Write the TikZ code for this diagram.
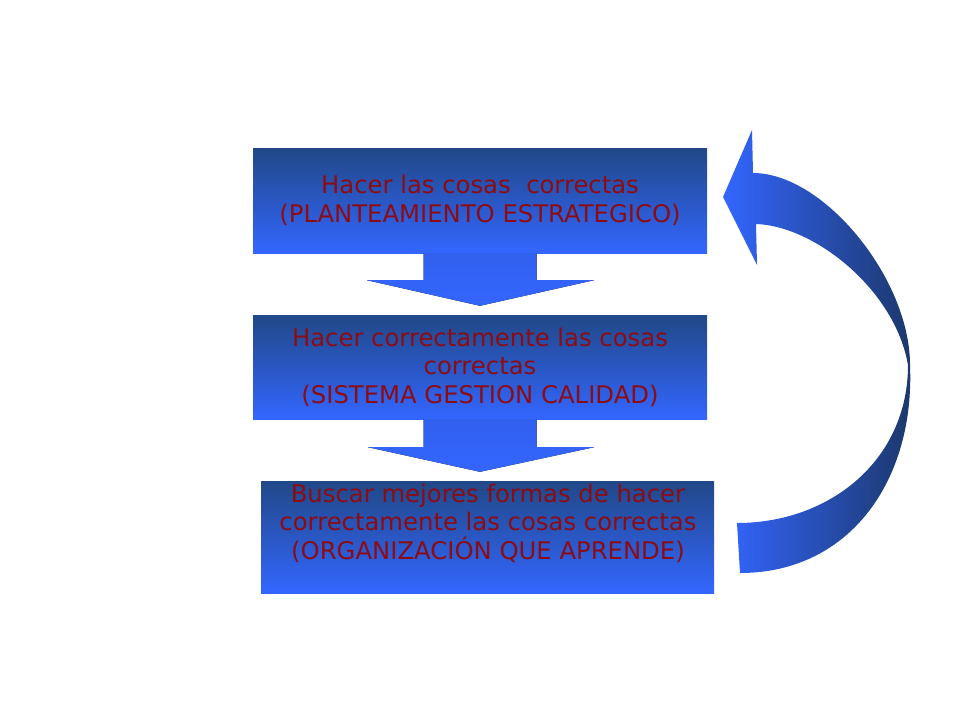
\documentclass[tikz,border=0pt]{standalone}
\usepackage{fontspec}
\setmainfont{DejaVu Sans}
\usetikzlibrary{calc}
\definecolor{bdark}{RGB}{33,72,135}
\definecolor{bbright}{RGB}{51,102,255}
\definecolor{adark}{RGB}{28,55,105}
\definecolor{txtred}{RGB}{140,12,20}
\tikzset{
  stepbox/.style={shade, top color=bdark, bottom color=bbright, minimum width=454pt, minimum height=105pt, inner sep=0pt, text=txtred, align=center, font=\fontsize{24.3}{28.5}\selectfont},
  blockarrow/.style={shade, top color={rgb,255:red,50;green,96;blue,238}, bottom color=bbright, draw=none},
  lbl/.style={text=txtred, align=center, font=\fontsize{24.3}{28.5}\selectfont, inner sep=0pt}
}
\begin{document}
\begin{tikzpicture}[x=1pt,y=-1pt]
\useasboundingbox (0,0) rectangle (960,720);
\node[stepbox] (b1) at (480,200.5) {Hacer las cosas\ \ correctas\\(PLANTEAMIENTO ESTRATEGICO)};
\node[stepbox, minimum height=104pt] (b2) at (480,367) {Hacer correctamente las cosas \\correctas\\(SISTEMA GESTION CALIDAD)};
\node[stepbox, minimum width=453pt, minimum height=112pt, top color=bdark, middle color=bbright, bottom color=bbright] (b3) at (487.5,537) {};
\node[lbl] (t3) at (488,523) {Buscar mejores formas de hacer \\ correctamente las cosas correctas\\(ORGANIZACIÓN QUE APRENDE)};
% block arrows
\fill[blockarrow] ($(b1.south)+(-56.5,0)$) -- ($(b1.south)+(56.5,0)$) -- ($(b1.south)+(56.5,27)$) -- ($(b1.south)+(114,27)$) -- ($(b2.north)+(0,-9)$) -- ($(b1.south)+(-113,27)$) -- ($(b1.south)+(-56.5,27)$) -- cycle;
\fill[blockarrow] ($(b2.south)+(-56.5,0)$) -- ($(b2.south)+(56.5,0)$) -- ($(b2.south)+(56.5,28)$) -- ($(b2.south)+(114,28)$) -- ($(b3.north)+(-7.5,-9)$) -- ($(b2.south)+(-112,28)$) -- ($(b2.south)+(-56.5,28)$) -- cycle;
% curved feedback arrow
\coordinate (tip) at (723,197);
\shade[left color=bbright, right color=adark]
  (752,130) -- (753,173)
  .. controls (824,173) and (910,279) .. (910,365)
  .. controls (915,480) and (850,573) .. (740,573)
  -- (737,523)
  .. controls (830,523) and (908,460) .. (908,365)
  .. controls (895,290) and (815,226) .. (756,224)
  -- (757,265) -- (tip) -- cycle;
\end{tikzpicture}
\end{document}
